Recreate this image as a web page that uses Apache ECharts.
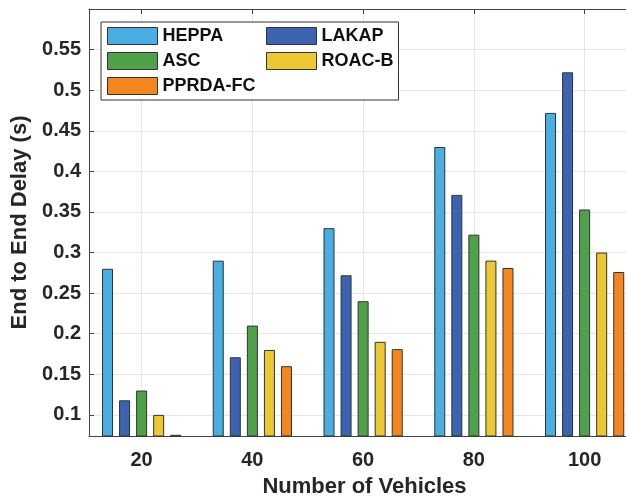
<!DOCTYPE html>
<html lang="en">

<head>
  <meta charset="UTF-8">
  <title>End to End Delay</title>
  <script src="https://cdn.jsdelivr.net/npm/echarts@6.0.0/dist/echarts.min.js"></script>
  <style>
    html, body {
      margin: 0;
      padding: 0;
      overflow: hidden;
      background: #fff;
    }
    #main {
      width: 640px;
      height: 497px;
    }
  </style>
</head>

<body>
  <div id="main"></div>
  <script>
    // data
    var vehicles = [20, 40, 60, 80, 100]
    var heppa = [0.28, 0.29, 0.33, 0.43, 0.472]
    var lakap = [0.118, 0.171, 0.272, 0.371, 0.522]
    var asc = [0.13, 0.21, 0.24, 0.322, 0.353]
    var roacb = [0.1, 0.18, 0.19, 0.29, 0.3]
    var pprdafc = [0.0755, 0.16, 0.181, 0.281, 0.276]

    var names = ['HEPPA', 'LAKAP', 'ASC', 'ROAC-B', 'PPRDA-FC']
    var colors = ['#4AAEE3', '#3B63AF', '#4FA14A', '#EBC834', '#F4861F']
    var values = [heppa, lakap, asc, roacb, pprdafc]
    // legend is laid out as two columns (matlab style)
    var legendCol1 = ['HEPPA', 'ASC', 'PPRDA-FC']
    var legendCol2 = ['LAKAP', 'ROAC-B']

    var font = "'Liberation Sans', Arial, sans-serif"
    var myChart = echarts.init(document.getElementById('main'))

    var series = names.map(function (n, i) {
      return {
        name: n,
        type: 'bar',
        barWidth: 11,
        barGap: '55%',
        data: vehicles.map(function (x, j) { return [x, values[i][j]] }),
        itemStyle: {
          color: colors[i],
          borderColor: '#333',
          borderWidth: 1
        }
      }
    })

    var legendBase = {
      orient: 'vertical',
      itemGap: 7,
      itemWidth: 50,
      itemHeight: 17,
      icon: 'rect',
      itemStyle: { borderColor: '#333', borderWidth: 1 },
      textStyle: { fontSize: 18, fontWeight: 'bold', color: '#111', fontFamily: font }
    }

    var option = {
      animation: false,
      textStyle: { fontFamily: font },
      grid: {
        left: 89,
        right: 0,
        top: 9,
        bottom: 61,
        outerBoundsMode: 'none'
      },
      legend: [
        Object.assign({}, legendBase, {
          left: 101,
          top: 22,
          padding: [5, 143, 5, 6],
          backgroundColor: '#fff',
          borderColor: '#333',
          borderWidth: 1,
          data: legendCol1
        }),
        Object.assign({}, legendBase, {
          left: 266,
          top: 27,
          padding: 0,
          z: 5,
          data: legendCol2
        })
      ],
      xAxis: [
        {
          type: 'value',
          min: 10.5,
          max: 110,
          splitNumber: 5,
          name: 'Number of Vehicles',
          nameLocation: 'middle',
          nameGap: 40,
          nameTextStyle: { fontSize: 22, fontWeight: 'bold', color: '#262626', fontFamily: font },
          axisLine: { lineStyle: { color: '#444', width: 1 } },
          axisTick: { inside: true, length: 5, lineStyle: { color: '#444' } },
          axisLabel: {
            showMinLabel: false,
            showMaxLabel: false,
            margin: 14,
            fontSize: 20,
            fontWeight: 'bold',
            color: '#262626',
            fontFamily: font
          },
          splitLine: { show: true, lineStyle: { color: '#e6e6e6' } }
        },
        {
          type: 'value',
          position: 'top',
          min: 10.5,
          max: 110,
          splitNumber: 5,
          axisLine: { show: true, lineStyle: { color: '#444', width: 1 } },
          axisTick: { show: true, inside: true, length: 5, lineStyle: { color: '#444' } },
          axisLabel: { show: false },
          splitLine: { show: false }
        }
      ],
      yAxis: {
        type: 'value',
        min: 0.074,
        max: 0.6,
        splitNumber: 10,
        name: 'End to End Delay (s)',
        nameLocation: 'middle',
        nameGap: 48,
        nameTextStyle: { fontSize: 22, fontWeight: 'bold', color: '#262626', fontFamily: font },
        axisLine: { show: true, lineStyle: { color: '#444', width: 1 } },
        axisTick: { show: true, inside: true, length: 5, lineStyle: { color: '#444' } },
        axisLabel: {
          showMinLabel: false,
          showMaxLabel: false,
          margin: 8,
          fontSize: 20,
          fontWeight: 'bold',
          color: '#262626',
          fontFamily: font
        },
        splitLine: { show: true, lineStyle: { color: '#e6e6e6' } }
      },
      series: series
    }
    myChart.setOption(option)
  </script>
</body>

</html>
